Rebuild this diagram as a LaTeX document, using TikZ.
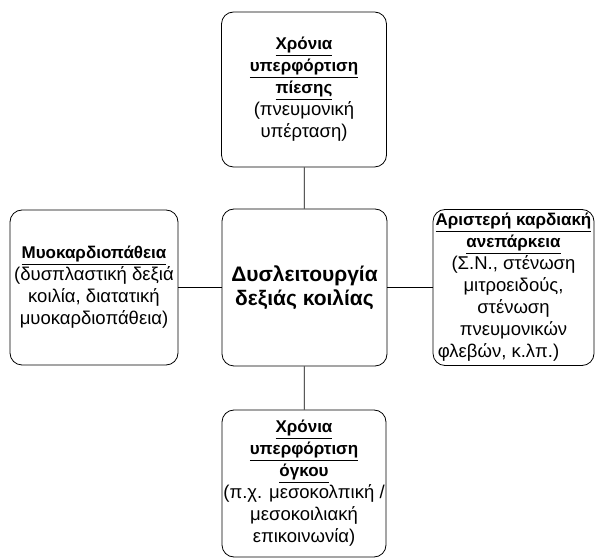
\documentclass[tikz,border=0pt]{standalone}
\usepackage{fontspec}
\setmainfont{Liberation Sans}
\newcommand{\boxtitle}[1]{{\fontsize{17}{22}\selectfont\bfseries\underline{#1}}}

\begin{document}
\begin{tikzpicture}[x=1pt, y=1pt]
    \tikzstyle{every node} = [draw, thick, rounded corners=12pt, inner sep=0pt, align=center, font=\fontsize{18.5}{22}\selectfont]
    \useasboundingbox (0, 0) rectangle (596, 559);
    % boxes
    \node [minimum width=165, minimum height=157, font=\fontsize{21}{24}\selectfont\bfseries] (rv) at (304.5, 271.5) {Δυσλειτουργία\\δεξιάς κοιλίας};
    \node [minimum width=165, minimum height=155] (pressure) at (304, 469.5) {\boxtitle{Χρόνια}\\\boxtitle{υπερφόρτιση}\\\boxtitle{πίεσης}\\(πνευμονική\\υπέρταση)};
    \node [minimum width=168, minimum height=155] (cardio) at (94, 271.5) {\boxtitle{Μυοκαρδιοπάθεια}\\(δυσπλαστική δεξιά\\κοιλία, διατατική\\μυοκαρδιοπάθεια)};
    \node [minimum width=161, minimum height=156] (lhf) at (513.5, 271.5) {\boxtitle{Αριστερή καρδιακή}\\\boxtitle{ανεπάρκεια}\\(Σ.Ν., στένωση\\μιτροειδούς,\\στένωση\\πνευμονικών\\φλεβών, κ.λπ.)\hspace*{30pt}};
    \node [minimum width=164, minimum height=147] (volume) at (304, 75.5) {\boxtitle{Χρόνια}\\\boxtitle{υπερφόρτιση}\\\boxtitle{όγκου}\\(π.χ. μεσοκολπική /\\μεσοκοιλιακή\\επικοινωνία)};
    % links
    \draw [thick] (pressure) -- (rv);
    \draw [thick] (cardio) -- (rv);
    \draw [thick] (rv) -- (lhf);
    \draw [thick] (rv) -- (volume);
\end{tikzpicture}
\end{document}
